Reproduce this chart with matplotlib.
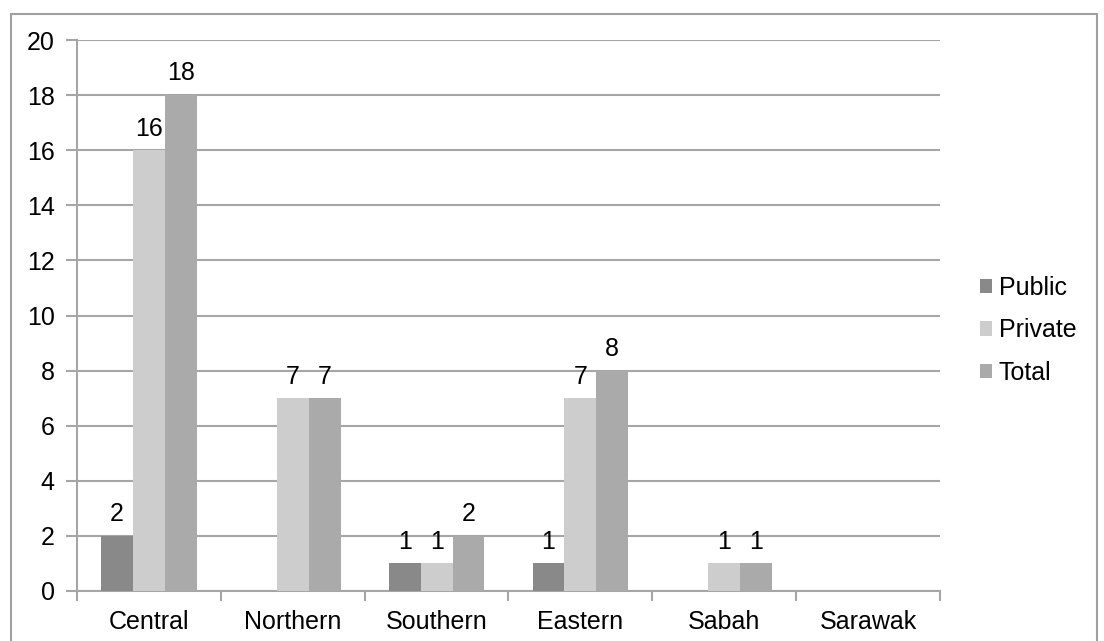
import matplotlib
matplotlib.use("Agg")
import matplotlib.pyplot as plt
from matplotlib.patches import Rectangle
import numpy as np

categories = ["Central", "Northern", "Southern", "Eastern", "Sabah", "Sarawak"]
public = [2, 0, 1, 1, 0, 0]
private = [16, 7, 1, 7, 1, 0]
total = [18, 7, 2, 8, 1, 0]
series_names = ["Public", "Private", "Total"]
yticks = list(range(0, 21, 2))

plt.rcParams['font.family'] = ['Liberation Sans', 'DejaVu Sans']
FS = 18
colors = ["#898989", "#cdcdcd", "#aaaaaa"]
gridc = "#a6a6a6"

fig = plt.figure(figsize=(11.04, 6.41), dpi=100)
fig.patches.append(Rectangle((10.5/1104, -0.01), (1097-10.5)/1104, 1.01 - 13.5/641,
                             transform=fig.transFigure, fill=False, edgecolor="#a0a0a0", linewidth=1.5))
ax = fig.add_axes([77/1104, 1-591/641, (940-77)/1104, (591-40)/641])

x = np.arange(len(categories))
w = 0.222
for i, (vals, name) in enumerate(zip([public, private, total], series_names)):
    pos = x + (i - 1) * w
    ax.bar(pos, vals, width=w, color=colors[i], label=name, zorder=3)
    for p, v in zip(pos, vals):
        if v != 0:
            ax.text(p, v + 0.35, str(v), ha="center", va="bottom", fontsize=FS, zorder=4)

ax.set_xlim(-0.5, len(categories) - 0.5)
ax.set_ylim(0, 20)
ax.set_yticks(yticks)
ax.set_yticklabels([str(t) for t in yticks], fontsize=FS)
ax.yaxis.grid(True, color=gridc, linewidth=1.5, zorder=0)
ax.set_axisbelow(True)
ax.set_xticks(x)
ax.set_xticklabels(categories, fontsize=FS)
ax.tick_params(axis="x", length=0, pad=14)
ax.set_xticks(np.arange(-0.5, len(categories)), minor=True)
ax.tick_params(axis="x", which="minor", length=7, width=1.5, color=gridc)
ax.tick_params(axis="y", length=8, width=1.5, color=gridc, pad=8)
for s in ["top", "right"]:
    ax.spines[s].set_visible(False)
for s in ["left", "bottom"]:
    ax.spines[s].set_color(gridc)
    ax.spines[s].set_linewidth(1.5)

leg = ax.legend(loc="center left", bbox_to_anchor=(1.02, 0.473), frameon=False,
                fontsize=FS, handlelength=0.5, handleheight=0.5, handletextpad=0.25,
                labelspacing=0.74)

fig.savefig("out.png", dpi=100)
